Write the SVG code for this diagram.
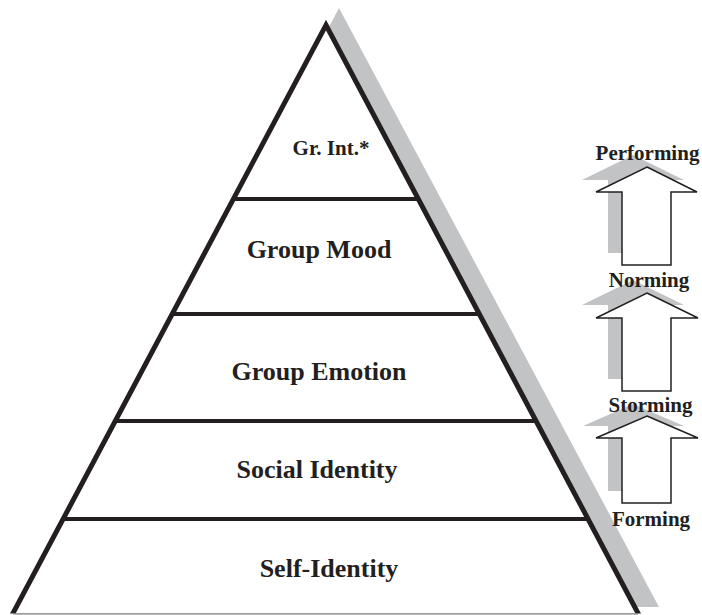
<svg xmlns="http://www.w3.org/2000/svg" width="702" height="615" viewBox="0 0 702 615">
<defs>
<style>
.lbl{font-family:"Liberation Serif","Times New Roman",serif;font-weight:bold;fill:#231f20;text-anchor:middle}
.big{font-size:26px}
.mid{font-size:21px}
.stg{font-size:21px}
.edge{fill:none;stroke:#231f20;stroke-width:5;stroke-linejoin:miter;stroke-miterlimit:20}
.div{stroke:#231f20;stroke-width:4}
.shadow{fill:#c2c3c5}
.arr{fill:#ffffff;stroke:#231f20;stroke-width:1.5;stroke-linejoin:miter}
</style>
<clipPath id="clipBase"><rect x="0" y="0" width="702" height="613.5"/></clipPath>
</defs>
<rect width="702" height="615" fill="#ffffff"/>

<g id="pyramid">
<polygon class="shadow" points="339,8 659,607 634.8,607 328,28.7"/>
<polyline class="edge" clip-path="url(#clipBase)" points="11.5,616 326,25 639.5,616"/>
<line x1="13" y1="613.8" x2="638" y2="613.8" stroke="#7a7a7a" stroke-width="1.2"/>
</g>

<g id="connectors">
<line class="div" x1="233.4" y1="199" x2="418.3" y2="199"/>
<line class="div" x1="172.2" y1="314" x2="479.3" y2="314"/>
<line class="div" x1="115.2" y1="421" x2="536.1" y2="421"/>
<line class="div" x1="63" y1="519" x2="588.1" y2="519"/>
</g>

<g id="layer-group-intelligence"><text class="lbl mid" x="331" y="155">Gr. Int.*</text></g>
<g id="layer-group-mood"><text class="lbl big" x="319" y="258">Group Mood</text></g>
<g id="layer-group-emotion"><text class="lbl big" x="319" y="380">Group Emotion</text></g>
<g id="layer-social-identity"><text class="lbl big" x="317" y="478">Social Identity</text></g>
<g id="layer-self-identity"><text class="lbl big" x="329" y="577">Self-Identity</text></g>

<g id="arrow-performing">
<path class="shadow" d="M633,155 L684,180 L657,180 L657,253 L608,253 L608,180 L582,180 Z"/>
<path class="arr" d="M647,167 L697,192 L671,192 L671,265 L622,265 L622,192 L596,192 Z"/>
<text class="lbl stg" x="647.5" y="160">Performing</text>
</g>
<g id="arrow-norming">
<path class="shadow" d="M633,280 L684,305 L657,305 L657,379 L608,379 L608,305 L582,305 Z"/>
<path class="arr" d="M647,293 L698,318 L671,318 L671,391 L622,391 L622,318 L596,318 Z"/>
<text class="lbl stg" x="649" y="287">Norming</text>
</g>
<g id="arrow-storming">
<path class="shadow" d="M633,404 L684,426 L657,426 L657,491 L608,491 L608,426 L583,426 Z"/>
<path class="arr" d="M647,416 L698,438 L671,438 L671,503 L622,503 L622,438 L596,438 Z"/>
<text class="lbl stg" x="650.5" y="411.5">Storming</text>
</g>
<g id="stage-forming">
<text class="lbl stg" x="651" y="526">Forming</text>
</g>
</svg>
